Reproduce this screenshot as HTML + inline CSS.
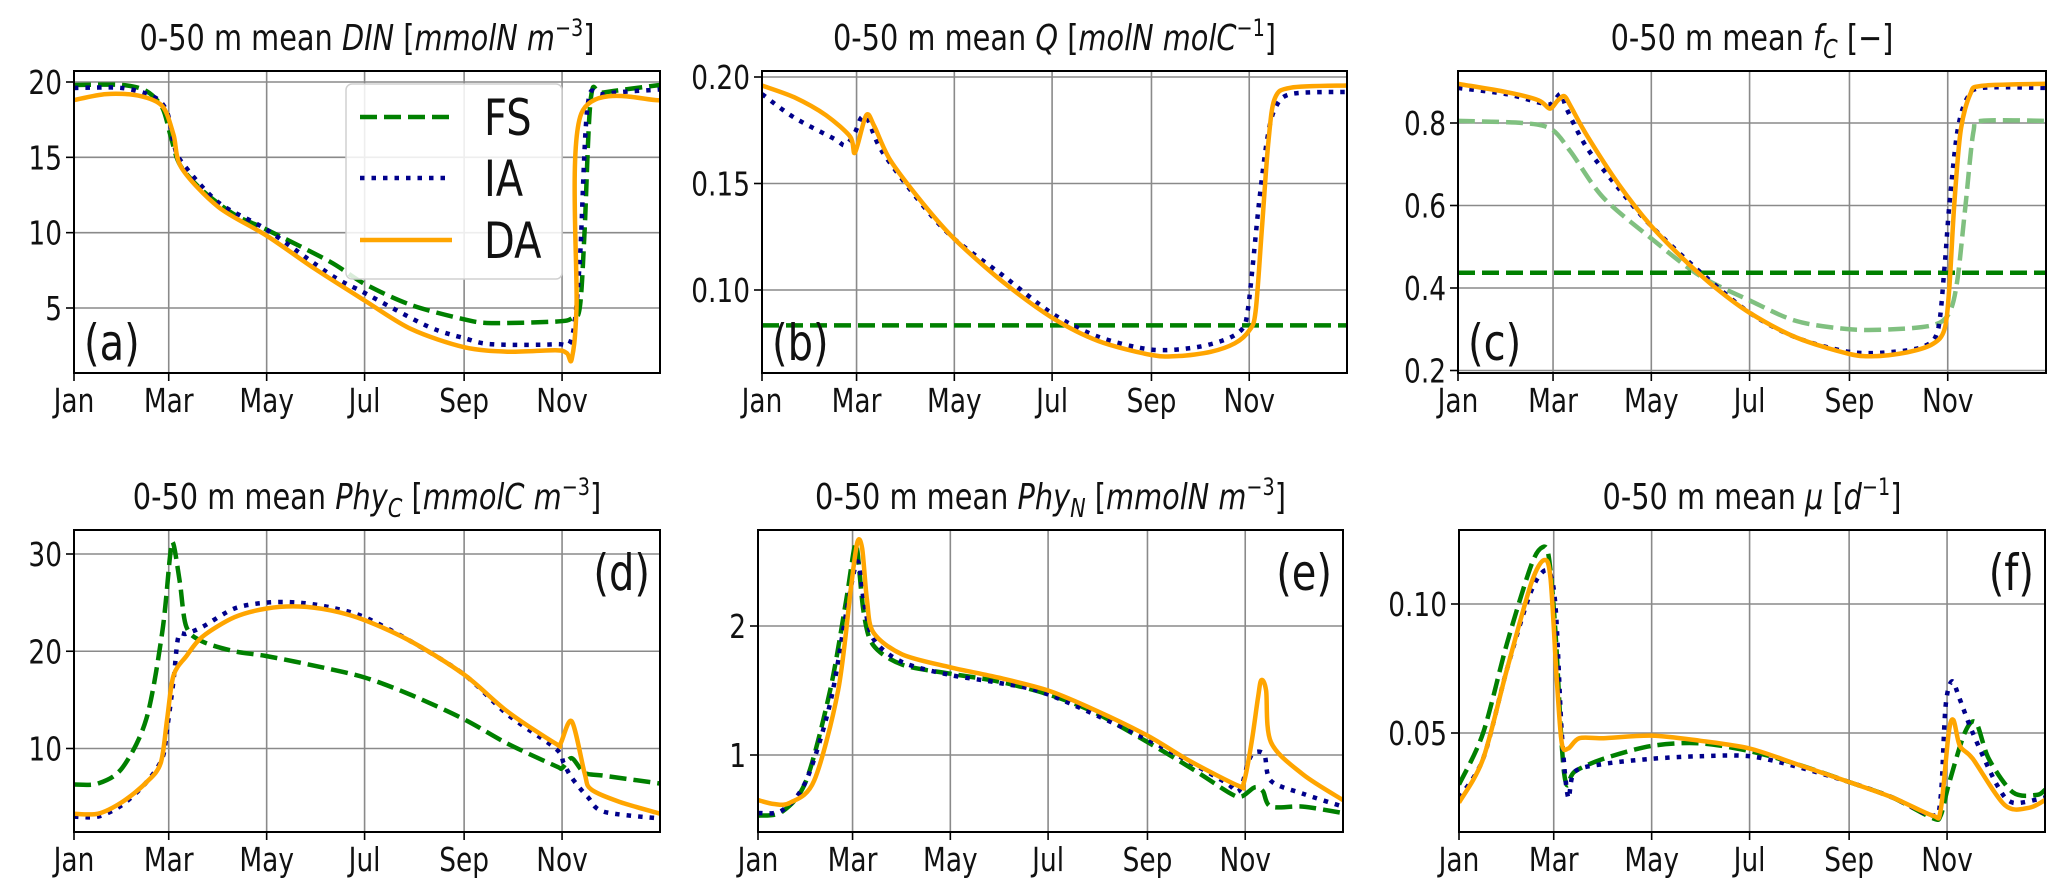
<!DOCTYPE html>
<html><head><meta charset="utf-8"><style>
html,body{margin:0;padding:0;background:#fff;}
svg{display:block;font-family:"DejaVu Sans","Liberation Sans",sans-serif;}
</style></head><body>
<svg id="fig" width="2067" height="893" viewBox="0 0 2067 893"></svg>
<script>
// ---- data (day of year, value) ----
const monthTicks = [0, 59, 120, 181, 243, 304];
const monthLabels = ["Jan","Mar","May","Jul","Sep","Nov"];

const dinFS = [[0,19.8],[30,19.8],[45,19.4],[55,18.3],[60,16.5],[66,14.5],[80,12.8],[100,11.2],[120,10.2],[159,8.1],[181,6.6],[210,5.2],[243,4.25],[260,4.0],[300,4.1],[310,4.3],[315,5],[318,10],[322,19],[330,19.3],[365,19.8]];
const dinIA = [[0,19.6],[30,19.6],[50,19],[58,18],[62,16],[67,14.7],[90,12],[120,10.2],[160,7.2],[181,6.0],[220,3.8],[243,3.0],[260,2.6],[300,2.6],[310,3.0],[315,8],[320,18.5],[330,19.2],[365,19.5]];
const dinDA = [[0,18.8],[20,19.2],[40,19.1],[55,18.4],[62,16.5],[67,14.3],[90,11.7],[120,9.8],[150,7.6],[181,5.5],[210,3.6],[243,2.4],[270,2.1],[300,2.2],[307,2.0],[310,1.6],[313,5],[316,17.9],[365,18.8]];

const qFS = [[0,0.0834],[365,0.0834]];
const qIA = [[0,0.192],[20,0.181],[45,0.171],[52,0.168],[58,0.174],[62,0.181],[66,0.18],[75,0.165],[100,0.14],[120,0.124],[150,0.107],[181,0.089],[210,0.078],[243,0.072],[270,0.073],[290,0.077],[300,0.082],[303,0.09],[306,0.11],[310,0.14],[315,0.17],[320,0.185],[330,0.192],[365,0.193]];
const qDA = [[0,0.196],[20,0.1905],[40,0.182],[55,0.172],[58,0.1645],[65,0.182],[70,0.177],[80,0.161],[100,0.141],[120,0.124],[150,0.104],[181,0.087],[210,0.076],[243,0.0695],[260,0.069],[280,0.071],[295,0.075],[304,0.081],[308,0.09],[312,0.13],[316,0.17],[320,0.19],[330,0.195],[365,0.196]];

const fcFSconst = [[0,0.437],[365,0.437]];
const fcFS = [[0,0.805],[40,0.8],[58,0.785],[70,0.73],[90,0.62],[120,0.52],[150,0.43],[181,0.37],[210,0.32],[243,0.3],[270,0.3],[295,0.31],[305,0.34],[310,0.42],[315,0.6],[320,0.78],[325,0.805],[365,0.805]];
const fcIA = [[0,0.885],[30,0.87],[50,0.85],[57,0.845],[60,0.855],[64,0.87],[68,0.83],[80,0.74],[100,0.64],[120,0.55],[150,0.44],[181,0.34],[210,0.28],[243,0.245],[270,0.245],[290,0.26],[298,0.3],[302,0.45],[305,0.6],[310,0.78],[316,0.86],[325,0.885],[365,0.885]];
const fcDA = [[0,0.895],[30,0.875],[50,0.855],[57,0.835],[62,0.855],[66,0.865],[70,0.84],[80,0.77],[100,0.65],[120,0.55],[140,0.47],[160,0.4],[181,0.34],[210,0.28],[243,0.24],[260,0.235],[280,0.245],[295,0.265],[302,0.3],[305,0.4],[308,0.6],[312,0.78],[318,0.87],[325,0.89],[365,0.895]];

const phycFS = [[0,6.3],[15,6.4],[30,8],[45,13],[55,22],[60,30],[62,31],[66,27],[70,22.5],[80,21],[100,20],[120,19.5],[150,18.5],[181,17.3],[210,15.5],[243,13.0],[270,10.5],[300,8.2],[304,8.0],[310,9],[318,7.5],[330,7.2],[365,6.4]];
const phycIA = [[0,3.0],[15,3.0],[30,4.2],[45,6.5],[55,9],[58,12],[62,17],[65,21.5],[70,21.8],[80,22.5],[100,24.4],[120,25],[140,25],[160,24.5],[181,23.5],[210,21],[243,17.6],[270,13.5],[300,10],[305,8.5],[310,7.0],[320,5],[330,3.5],[365,2.8]];
const phycDA = [[0,3.3],[15,3.3],[30,4.5],[45,6.5],[54,8.5],[58,13],[62,17.5],[70,19.5],[80,21.5],[100,23.5],[120,24.4],[140,24.6],[160,24.2],[181,23.2],[210,21],[243,17.6],[270,13.8],[300,10.5],[303,10.5],[310,12.8],[318,7.5],[322,5.8],[340,4.5],[365,3.3]];

const phynFS = [[0,0.53],[15,0.56],[30,0.8],[45,1.5],[55,2.2],[60,2.6],[62,2.58],[66,2.1],[72,1.85],[90,1.7],[120,1.63],[150,1.57],[181,1.47],[210,1.33],[243,1.1],[270,0.9],[295,0.7],[302,0.68],[310,0.75],[315,0.72],[320,0.6],[340,0.6],[365,0.55]];
const phynIA = [[0,0.55],[15,0.57],[30,0.8],[45,1.4],[55,2.1],[62,2.5],[66,2.2],[72,1.9],[90,1.72],[120,1.62],[150,1.56],[181,1.47],[243,1.12],[290,0.8],[300,0.72],[306,0.95],[310,1.02],[316,1.0],[320,0.8],[340,0.7],[365,0.6]];
const phynDA = [[0,0.65],[10,0.62],[20,0.63],[35,0.8],[50,1.5],[58,2.3],[62,2.65],[65,2.6],[68,2.2],[72,1.95],[90,1.78],[120,1.68],[150,1.6],[181,1.5],[210,1.35],[243,1.15],[270,0.95],[300,0.76],[303,0.78],[308,1.1],[312,1.45],[314,1.58],[317,1.5],[320,1.1],[340,0.85],[365,0.65]];

const muFS = [[0,0.03],[15,0.05],[30,0.085],[45,0.115],[52,0.122],[56,0.118],[60,0.09],[64,0.045],[67,0.03],[72,0.035],[90,0.04],[120,0.045],[150,0.046],[181,0.043],[210,0.038],[243,0.031],[270,0.025],[295,0.017],[300,0.018],[305,0.03],[315,0.05],[322,0.054],[330,0.04],[345,0.027],[360,0.026],[365,0.028]];
const muIA = [[0,0.025],[15,0.04],[30,0.075],[45,0.105],[55,0.113],[60,0.1],[64,0.05],[68,0.025],[72,0.035],[90,0.038],[120,0.04],[150,0.041],[181,0.041],[210,0.037],[243,0.031],[270,0.025],[295,0.018],[300,0.025],[303,0.06],[307,0.07],[312,0.063],[320,0.05],[335,0.03],[345,0.023],[365,0.025]];
const muDA = [[0,0.023],[15,0.04],[30,0.075],[45,0.108],[53,0.117],[57,0.11],[61,0.07],[64,0.046],[68,0.044],[75,0.048],[90,0.048],[120,0.049],[150,0.047],[181,0.044],[210,0.038],[243,0.031],[270,0.025],[295,0.018],[300,0.02],[305,0.05],[308,0.055],[312,0.045],[320,0.04],[340,0.022],[355,0.021],[365,0.024]];

const dinTicks = [5,10,15,20];
const qTicks = [0.10,0.15,0.20];
const fcTicks = [0.2,0.4,0.6,0.8];
const phycTicks = [10,20,30];
const phynTicks = [1,2];
const muTicks = [0.05,0.10];

// ---- layout / styles ----
const NS = "http://www.w3.org/2000/svg";
const fig = document.getElementById("fig");
const SX = 0.8;
function el(tag, attrs, parent){
  const e = document.createElementNS(NS, tag);
  for (const k in attrs) e.setAttribute(k, attrs[k]);
  (parent||fig).appendChild(e);
  return e;
}
function txt(parent, x, y, anchor, size){
  return el("text",{x:0,y:0,"text-anchor":anchor,"font-size":size,fill:"#111",
    transform:"translate("+x+","+y+") scale("+SX+",1)"},parent);
}
const STY = {
  FS:{stroke:"#008000","stroke-width":4.5,"stroke-dasharray":"17 7"},
  FSL:{stroke:"#80c080","stroke-width":4.5,"stroke-dasharray":"17 7"},
  IA:{stroke:"#00008b","stroke-width":4.5,"stroke-dasharray":"4.5 7"},
  DA:{stroke:"#ffa500","stroke-width":4.5}
};
function pathD(pts){
  if (pts.length<3) return "M"+pts.map(p=>p[0].toFixed(1)+","+p[1].toFixed(1)).join(" L");
  let d = "M"+pts[0][0].toFixed(1)+","+pts[0][1].toFixed(1);
  for (let i=0;i<pts.length-1;i++){
    const p0=pts[Math.max(0,i-1)], p1=pts[i], p2=pts[i+1], p3=pts[Math.min(pts.length-1,i+2)];
    const t=0.15;
    const c1=[p1[0]+(p2[0]-p0[0])*t, p1[1]+(p2[1]-p0[1])*t];
    const c2=[p2[0]-(p3[0]-p1[0])*t, p2[1]-(p3[1]-p1[1])*t];
    d+=" C"+c1[0].toFixed(1)+","+c1[1].toFixed(1)+" "+c2[0].toFixed(1)+","+c2[1].toFixed(1)+" "+p2[0].toFixed(1)+","+p2[1].toFixed(1);
  }
  return d;
}
let clipN=0;
function panel(o){
  const g = el("g",{});
  
  
  const xs = d => o.l + d/365*(o.r-o.l);
  const ys = v => o.y0px + (v - o.y0)*(o.y1px - o.y0px)/(o.y1 - o.y0);
  const t = txt(g,(o.l+o.r)/2,o.titleY,"middle",36);
  
  
  t.innerHTML = o.title;
  monthTicks.forEach((m,i)=>{
    const x = xs(m);
    if (i>0) { const gl=el("line",{x1:x,x2:x,y1:o.t,y2:o.b,stroke:"#8a8a8a","stroke-width":1.6},g);
        }
    const tk=el("line",{x1:x,x2:x,y1:o.b,y2:o.b+8,stroke:"#000","stroke-width":1.6},g);
     
    const lb=txt(g,x,o.b+39,"middle",33);
     
    lb.textContent = monthLabels[i];
  });
  o.ticks.forEach(v=>{
    const y = ys(v);
    const gl=el("line",{x1:o.l,x2:o.r,y1:y,y2:y,stroke:"#8a8a8a","stroke-width":1.6},g);
     
    const tk=el("line",{x1:o.l-8,x2:o.l,y1:y,y2:y,stroke:"#000","stroke-width":1.6},g);
     
    const lb=txt(g,o.l-12,y+12,"end",33);
     
    lb.textContent = o.fmt(v);
  });
  const id="c"+(clipN++);
  const cp=el("clipPath",{id:id},g); el("rect",{x:o.l,y:o.t,width:o.r-o.l,height:o.b-o.t},cp);
  const sg=el("g",{"clip-path":"url(#"+id+")"},g);
  o.series.forEach(s=>{
    const pts = s.data.map(p=>[xs(p[0]), ys(p[1])]);
    const attrs = Object.assign({d:pathD(pts), fill:"none","stroke-linejoin":"round"}, STY[s.sty]);
    const p = el("path", attrs, sg);
    
    
  });
  const fr=el("rect",{x:o.l,y:o.t,width:o.r-o.l,height:o.b-o.t,fill:"none",stroke:"#000","stroke-width":2},g);
   
  const pl=txt(g,o.labX,o.labY,o.labA,50);
   
  pl.textContent = o.lab;
  return g;
}
const f0 = v=>String(v), f1 = v=>v.toFixed(1), f2 = v=>v.toFixed(2);
const row1 = {t:71,b:373,titleY:50}, row2 = {t:530,b:832,titleY:509};
const colA={l:74,r:660}, colB={l:762,r:1347}, colC={l:1458,r:2046};
const colE={l:758,r:1343}, colF={l:1459,r:2045};
const sup = s => '<tspan dy="-14" font-size="24">'+s+'</tspan><tspan dy="14">]</tspan>';
const sub = s => '<tspan font-style="italic" dy="8" font-size="26">'+s+'</tspan><tspan dy="-8">';

panel(Object.assign({name:"panel-a-din",title:'0-50 m mean <tspan font-style="italic">DIN</tspan> [<tspan font-style="italic">mmolN m</tspan>'+sup('−3'),
  y0:20,y0px:82,y1:5,y1px:308,ticks:dinTicks,fmt:f0,lab:"(a)",labX:84,labY:360,labA:"start",
  series:[{name:"din-fs-line",sty:"FS",data:dinFS},{name:"din-ia-line",sty:"IA",data:dinIA},{name:"din-da-line",sty:"DA",data:dinDA}]},row1,colA));
panel(Object.assign({name:"panel-b-q",title:'0-50 m mean <tspan font-style="italic">Q</tspan> [<tspan font-style="italic">molN molC</tspan>'+sup('−1'),
  y0:0.20,y0px:77,y1:0.10,y1px:290,ticks:qTicks,fmt:f2,lab:"(b)",labX:772,labY:360,labA:"start",
  series:[{name:"q-fs-line",sty:"FS",data:qFS},{name:"q-ia-line",sty:"IA",data:qIA},{name:"q-da-line",sty:"DA",data:qDA}]},row1,colB));
panel(Object.assign({name:"panel-c-fc",title:'0-50 m mean <tspan font-style="italic">f</tspan>'+sub('C')+' [−]</tspan>',
  y0:0.8,y0px:123,y1:0.4,y1px:288,ticks:fcTicks,fmt:f1,lab:"(c)",labX:1468,labY:360,labA:"start",
  series:[{name:"fc-fs-light-line",sty:"FSL",data:fcFS},{name:"fc-fs-line",sty:"FS",data:fcFSconst},{name:"fc-ia-line",sty:"IA",data:fcIA},{name:"fc-da-line",sty:"DA",data:fcDA}]},row1,colC));
panel(Object.assign({name:"panel-d-phyc",title:'0-50 m mean <tspan font-style="italic">Phy</tspan>'+sub('C')+' [</tspan><tspan font-style="italic">mmolC m</tspan>'+sup('−3'),
  y0:30,y0px:554,y1:10,y1px:748.5,ticks:phycTicks,fmt:f0,lab:"(d)",labX:650,labY:590,labA:"end",
  series:[{name:"phyc-fs-line",sty:"FS",data:phycFS},{name:"phyc-ia-line",sty:"IA",data:phycIA},{name:"phyc-da-line",sty:"DA",data:phycDA}]},row2,colA));
panel(Object.assign({name:"panel-e-phyn",title:'0-50 m mean <tspan font-style="italic">Phy</tspan>'+sub('N')+' [</tspan><tspan font-style="italic">mmolN m</tspan>'+sup('−3'),
  y0:2,y0px:626,y1:1,y1px:755,ticks:phynTicks,fmt:f0,lab:"(e)",labX:1332,labY:590,labA:"end",
  series:[{name:"phyn-fs-line",sty:"FS",data:phynFS},{name:"phyn-ia-line",sty:"IA",data:phynIA},{name:"phyn-da-line",sty:"DA",data:phynDA}]},row2,colE));
panel(Object.assign({name:"panel-f-mu",title:'0-50 m mean <tspan font-style="italic">μ</tspan> [<tspan font-style="italic">d</tspan>'+sup('−1'),
  y0:0.10,y0px:604,y1:0.05,y1px:733,ticks:muTicks,fmt:f2,lab:"(f)",labX:2034,labY:590,labA:"end",
  series:[{name:"mu-fs-line",sty:"FS",data:muFS},{name:"mu-ia-line",sty:"IA",data:muIA},{name:"mu-da-line",sty:"DA",data:muDA}]},row2,colF));

// legend
const lg = el("g",{});


const lbx = el("rect",{x:346,y:84,width:216,height:195,rx:6,fill:"#fff","fill-opacity":0.85,stroke:"#d0d0d0","stroke-width":1.5},lg);
 
const legendNames = ["FS","IA","DA"];
const legendY = [117,178,240];
legendNames.forEach((n,i)=>{
  const ln = el("line",Object.assign({x1:360,x2:452,y1:legendY[i],y2:legendY[i]},STY[n]),lg);
  
  
  const tx = txt(lg,484,legendY[i]+18,"start",50);
  
  
  tx.textContent = n;
});
</script>
</body></html>
